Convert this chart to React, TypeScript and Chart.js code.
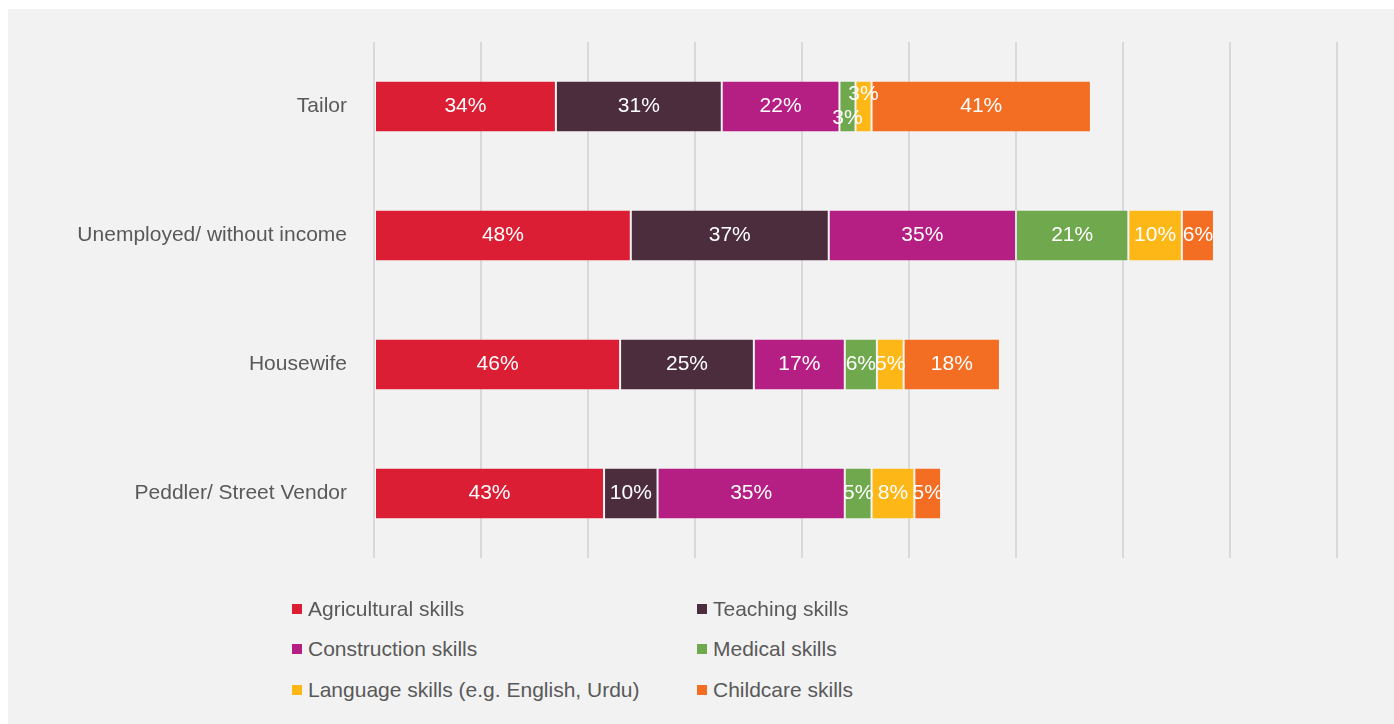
import React, { useEffect, useRef } from "react";
import { Chart, registerables } from "chart.js";

Chart.register(...registerables);

const categories = ["Tailor", "Unemployed/ without income", "Housewife", "Peddler/ Street Vendor"];
const seriesNames = [
  "Agricultural skills",
  "Teaching skills",
  "Construction skills",
  "Medical skills",
  "Language skills (e.g. English, Urdu)",
  "Childcare skills",
];
const agricultural = [34, 48, 46, 43];
const teaching = [31, 37, 25, 10];
const construction = [22, 35, 17, 35];
const medical = [3, 21, 6, 5];
const language = [3, 10, 5, 8];
const childcare = [41, 6, 18, 5];
const seriesValues = [agricultural, teaching, construction, medical, language, childcare];
const colors = ["#DC1E35", "#4B2D3E", "#B51F83", "#70A84E", "#FDB716", "#F36D23"];
const axisMax = 180;
const axisStep = 20;

const FONT = '"Liberation Sans", Arial, sans-serif';
const TEXT = "#595959";
const FS = 21;

// label offsets for crowded segments (category index -> dataset index -> dy)
const labelShift: Record<number, Record<number, number>> = { 0: { 3: 12, 4: -12 } };

const labelPlugin = {
  id: "segLabels",
  afterDatasetsDraw(chart: any) {
    const ctx = chart.ctx;
    ctx.save();
    ctx.font = `${FS}px ${FONT}`;
    ctx.fillStyle = "#ffffff";
    ctx.textAlign = "center";
    ctx.textBaseline = "middle";
    chart.data.datasets.forEach((ds: any, di: number) => {
      const meta = chart.getDatasetMeta(di);
      meta.data.forEach((bar: any, i: number) => {
        const v = ds.data[i];
        const cx = (bar.x + bar.base) / 2;
        const dy = (labelShift[i] && labelShift[i][di]) || 0;
        ctx.fillText(`${v}%`, cx, bar.y + dy);
      });
    });
    ctx.restore();
  },
};

export default function App() {
  const ref = useRef<HTMLCanvasElement>(null);
  useEffect(() => {
    if (!ref.current) return;
    const chart = new Chart(ref.current, {
      type: "bar",
      data: {
        labels: categories,
        datasets: seriesNames.map((name, k) => ({
          label: name,
          data: seriesValues[k],
          backgroundColor: colors[k],
          borderColor: "rgba(255,255,255,0.18)",
          borderWidth: 1,
          borderSkipped: false,
          categoryPercentage: 1,
          barPercentage: 0.4,
        })),
      },
      options: {
        indexAxis: "y",
        animation: false,
        responsive: false,
        layout: { padding: { top: 33, bottom: 51, right: 57, left: 0 } },
        plugins: { legend: { display: false }, tooltip: { enabled: false } },
        scales: {
          x: {
            stacked: true,
            min: 0,
            max: axisMax,
            ticks: { display: false, stepSize: axisStep },
            grid: { color: "#d9d9d9", lineWidth: 2, drawTicks: false },
            border: { display: false },
            afterFit(scale: any) {
              scale.height = 0;
              scale.paddingLeft = 0;
              scale.paddingRight = 0;
            },
          },
          y: {
            stacked: true,
            grid: { display: false, drawTicks: false },
            border: { display: false },
            ticks: { color: TEXT, font: { family: FONT, size: FS }, padding: 27 },
            afterFit(scale: any) {
              scale.width = 366;
              scale.paddingTop = 0;
              scale.paddingBottom = 0;
            },
          },
        },
      },
      plugins: [labelPlugin],
    });
    return () => chart.destroy();
  }, []);

  const rows = [600, 640, 681];
  const cols = [284, 689];
  return (
    <div
      style={{
        position: "fixed",
        left: 8,
        top: 9,
        width: 1386,
        height: 715,
        background: "#f2f2f2",
        fontFamily: FONT,
      }}
    >
      <canvas ref={ref} width={1386} height={600} style={{ display: "block" }} />
      {seriesNames.map((name, k) => (
        <div
          key={name}
          style={{
            position: "absolute",
            left: cols[k % 2],
            top: rows[Math.floor(k / 2)] - 12,
            height: 24,
            display: "flex",
            alignItems: "center",
            color: TEXT,
            fontSize: FS,
            whiteSpace: "nowrap",
          }}
        >
          <span style={{ width: 10, height: 10, background: colors[k], marginRight: 6, display: "inline-block" }} />
          <span>{name}</span>
        </div>
      ))}
    </div>
  );
}
